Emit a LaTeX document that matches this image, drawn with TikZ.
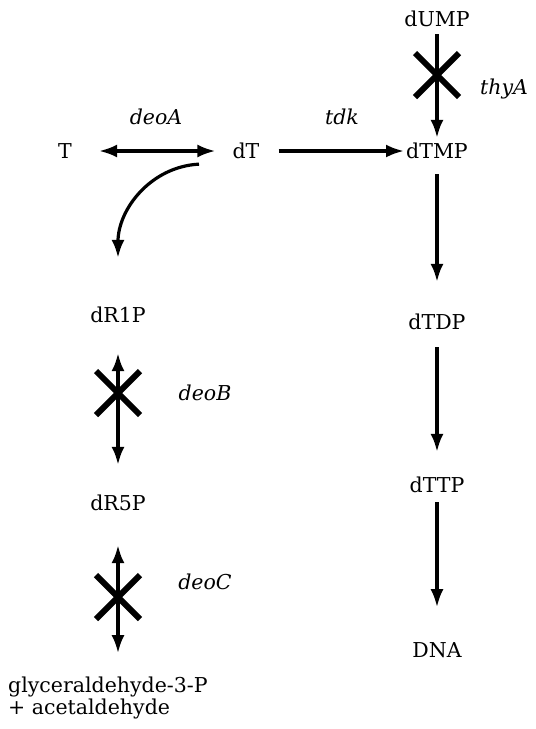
\documentclass[tikz,border=0pt]{standalone}
\usepackage{fontspec}
\setmainfont{DejaVu Serif}
\usetikzlibrary{arrows.meta,shapes.misc}

\begin{document}
\begin{tikzpicture}
[x=1pt,y=-1pt,
  nodeDecorate/.style={inner sep=2pt,font=\fontsize{20.5}{20}\selectfont},
  geneDecorate/.style={inner sep=2pt,font=\fontsize{20.5}{20}\selectfont\itshape},
  lineDecorate/.style={-{Latex[length=18pt,width=13pt]},line width=3.2pt},
  bothDecorate/.style={{Latex[length=18pt,width=13pt]}-{Latex[length=18pt,width=13pt]},line width=3.2pt},
  blockDecorate/.style={cross out,draw,line width=6pt,minimum size=38pt,inner sep=0pt}]
\useasboundingbox (0,0) rectangle (536,729);
%% metabolites
\foreach \nodename/\x/\y/\txt in {
  T/65/151/T, dT/246/151/dT, dUMP/437/19/dUMP, dTMP/437/151/dTMP,
  dTDP/437/322/dTDP, dTTP/437/485/dTTP, DNA/437/650/DNA,
  dR1P/118/315/dR1P, dR5P/118/503/dR5P}
{
  \node (\nodename) at (\x,\y) [nodeDecorate] {\txt};
}
\node (prod) at (6,698) [nodeDecorate,anchor=west,align=left]
  {glyceraldehyde-3-P\\+ acetaldehyde};
%% enzymes
\foreach \nodename/\x/\y/\txt in {
  deoA/156/117/deoA, tdk/342/117/tdk, thyA/504/89/thyA,
  deoB/205/393/deoB, deoC/205/582/deoC}
{
  \node (\nodename) at (\x,\y) [geneDecorate] {\txt};
}
%% blocked steps
\foreach \nodename/\x/\y in {xthyA/437/75, xdeoB/118/393, xdeoC/118/597}
{
  \node (\nodename) at (\x,\y) [blockDecorate] {};
}
%% reactions
\path
\foreach \startnode/\endnode/\s/\e in {
  dUMP/dTMP/5/3, dTMP/dTDP/13/30, dTDP/dTTP/15/23, dTTP/DNA/7/33}
{
  (\startnode) edge[lineDecorate,shorten <=\s pt,shorten >=\e pt] (\endnode)
};
\path (dT) edge[lineDecorate,shorten <=17pt,shorten >=0pt] (dTMP);
\path (T) edge[bothDecorate,shorten <=25pt,shorten >=15pt] (dT);
\path (dR1P) edge[bothDecorate,shorten <=28pt,shorten >=28pt] (dR5P);
\path (dR5P) edge[bothDecorate,shorten <=32pt,shorten >=22pt] (prod.north -| dR5P);
\draw[lineDecorate] ([xshift=-47pt,yshift=-3pt]dT.south)
  to[out=183,in=90] ([yshift=47pt]dR1P.north);
\end{tikzpicture}
\end{document}
